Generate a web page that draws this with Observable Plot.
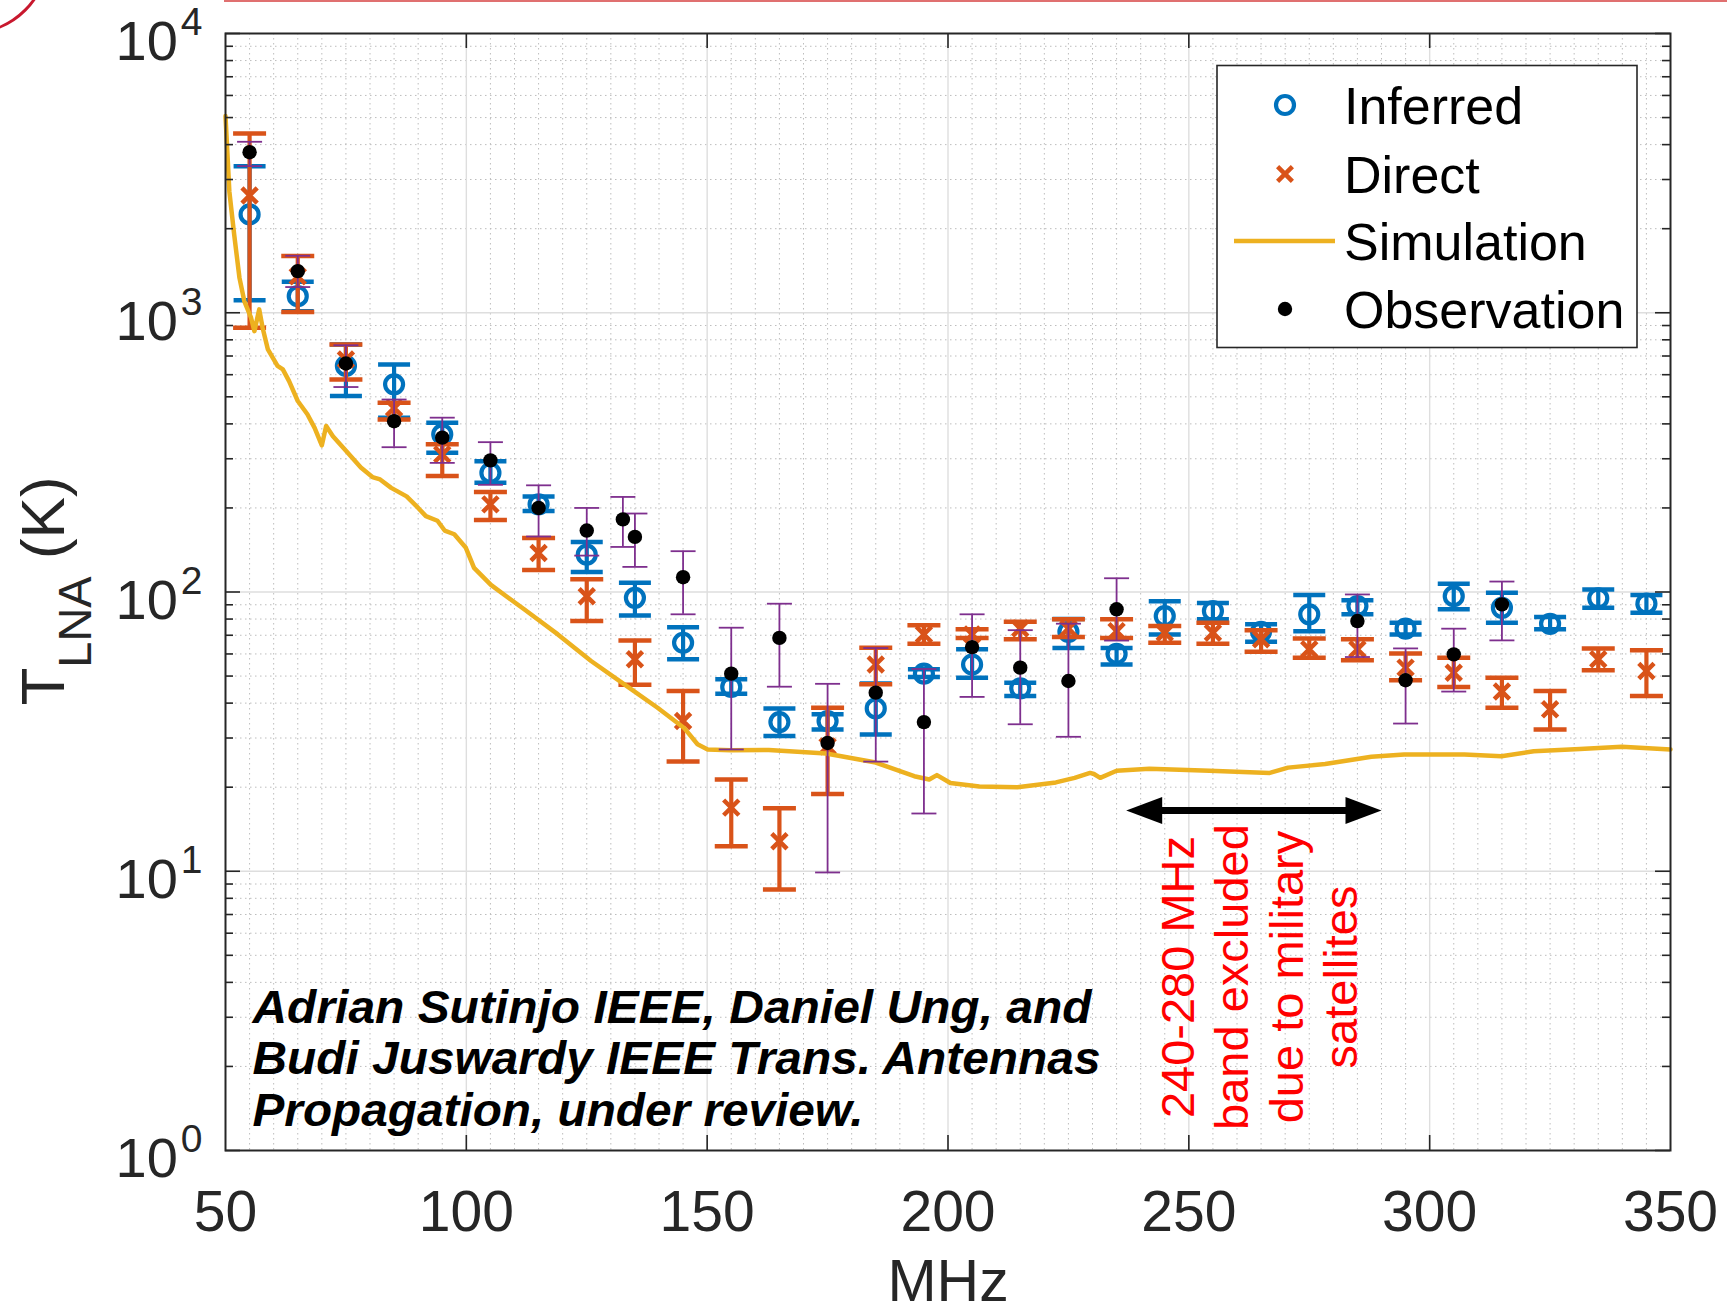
<!DOCTYPE html>
<html>
<head>
<meta charset="utf-8">
<script src="https://cdn.jsdelivr.net/npm/d3@7"></script>
<script src="https://cdn.jsdelivr.net/npm/@observablehq/plot@0.6"></script>
<style>
  html, body { margin: 0; padding: 0; background: #fff; }
  #chart { position: relative; width: 1727px; height: 1314px; overflow: hidden; }
  #chart svg { display: block; }
</style>
</head>
<body>
<div id="chart"></div>
<script>
// ---- Measurement frequencies (MHz) ----
const freq = [55, 65, 75, 85, 95, 105, 115, 125, 135, 145, 155, 165, 175, 185, 195,
              205, 215, 225, 235, 245, 255, 265, 275, 285, 295, 305, 315, 325, 335, 345];

// ---- Inferred T_LNA (K) with error bounds ----
const inferred   = [2250, 1146, 645, 554, 367, 267, 206, 136, 95.3, 65.8, 45.7, 34.2, 34.5, 38.3, 51,
                    55, 45.2, 72, 60, 82, 85.5, 72, 83.2, 89.1, 73.9, 96.6, 87.8, 76.9, 94.9, 90.8];
const inferredLo = [1109, 1013, 503, 421, 315, 246, 195, 118, 82.4, 57.4, 43.2, 30.5, 32.2, 30.9, 49.6,
                    49.3, 42.4, 63, 55, 70.5, 79.8, 66.3, 72.4, 83.2, 70.5, 86.7, 77.6, 73.5, 87.8, 84.3];
const inferredHi = [3350, 1291, 770, 653, 404, 294, 220, 151, 108, 74.8, 48.7, 38.3, 36.5, 47, 52.9,
                    62.4, 47.3, 80, 63, 92.7, 91.4, 76.6, 97.5, 93.4, 77.6, 107, 99.3, 81.3, 102, 97.5];

// ---- Direct T_LNA (K) with error bounds ----
const direct   = [2630, 1350, 680, 456, 311, 206, 138, 96.6, 57.4, 34.5, 16.9, 12.8, 28, 55, 70.5,
                  70.5, 74, 74, 72.4, 71.5, 71.5, 67.7, 62.4, 62.4, 53.6, 51.4, 44, 38, 57.4, 52.1];
const directLo = [883, 1007, 577, 415, 260, 181, 120, 78.7, 46.5, 24.7, 12.3, 8.6, 18.9, 46.7, 65.3,
                  68.5, 67.7, 69, 68.5, 65.8, 65.3, 61.1, 58.2, 57, 48.3, 45.7, 38.5, 32.2, 52.5, 42.4];
const directHi = [4385, 1596, 770, 476, 338, 228, 156, 111, 67.1, 44.2, 21.3, 16.8, 38.5, 63.1, 76,
                  73.6, 78.2, 79.8, 79.8, 75.5, 77.6, 73, 68.1, 67.7, 60.2, 58.2, 49.3, 44.2, 62.8, 61.8];

// ---- Sky observation (K) with error bounds ----
const obsFreq = [55, 65, 75, 85, 95, 105, 115, 125, 132.5, 135, 145, 155, 165, 175, 185, 195,
                 205, 215, 225, 235, 285, 295, 305, 315];
const obsTemp = [3758, 1409, 658, 409, 357, 296, 200, 166, 182, 157.5, 113, 51, 68.5, 28.8, 43.6, 34.2,
                 63.5, 53.6, 48, 86.7, 78.7, 48.3, 59.8, 90.3];
const obsLo   = [3350, 1236, 542, 330, 290, 242, 158, 135, 145, 123, 83.2, 27.3, 45.8, 9.9, 24.7, 16.1,
                 42.1, 33.6, 30.3, 67, 58.5, 33.8, 44, 67.1];
const obsHi   = [4095, 1600, 765, 489, 421, 344, 241, 200, 219, 191, 140, 74.5, 90.8, 46.9, 63, 53,
                 83.2, 73, 77, 112, 98, 62.8, 73.9, 109];

// ---- Simulated LNA noise temperature ----
const simFreq = [50.0, 50.8, 51.8, 52.9, 53.9, 55.3, 56.0, 57.0, 57.7, 58.8, 60.8, 61.9, 63.2, 65.0,
                 67.0, 68.5, 70.0, 70.9, 72.3, 75.1, 78.1, 80.5, 82.1, 84.4, 87.6, 90.0, 91.6, 94.0,
                 95.5, 97.5, 99.9, 101.6, 105.1, 112.0, 119.0, 125.9, 132.8, 139.7, 145.2, 148.0,
                 150.1, 154.9, 162.8, 174.7, 185.0, 193.0, 196.1, 197.7, 200.5, 206.5, 214.4, 222.4,
                 226.3, 229.5, 230.3, 231.6, 235.0, 241.8, 254.3, 266.8, 270.6, 278.3, 287.9, 294.7,
                 307.2, 314.9, 321.6, 331.2, 339.9, 350.0];
const simTemp = [5060, 2720, 1905, 1333, 1101, 960, 859, 1028, 884, 739, 645, 627, 569, 483,
                 433, 387, 335, 393, 361, 319, 279, 258, 253, 236, 220, 200, 187, 180,
                 166, 161, 144, 122, 106, 86.7, 70.5, 56.6, 46.7, 38.5, 32.6, 28.5,
                 27.3, 27.1, 27.2, 26.4, 24.5, 21.9, 21.3, 22.1, 20.7, 20.1, 20.0, 20.8,
                 21.6, 22.5, 22.3, 21.6, 22.9, 23.3, 22.9, 22.5, 23.5, 24.2, 25.7, 26.2,
                 26.2, 25.8, 26.9, 27.4, 27.9, 27.3];

// ---- Axis ticks ----
const xTicks = [50, 100, 150, 200, 250, 300, 350];
const yTicks = [1, 10, 100, 1000, 10000];

// ---- Annotations ----
const excludedBand = [237, 290];     // MHz span of the double arrow
const excludedLevel = 16.5;          // K, height of the arrow
const bandNote = ["240-280 MHz", "band excluded", "due to military", "satellites"];
const citation = ["Adrian Sutinjo IEEE, Daniel Ung, and",
                  "Budi Juswardy IEEE Trans. Antennas",
                  "Propagation, under review."];
const legendItems = ["Inferred", "Direct", "Simulation", "Observation"];

// ---- Tables built from the arrays ----
const infRows = freq.map((f, i) => ({f, v: inferred[i], lo: inferredLo[i], hi: inferredHi[i]}));
const dirRows = freq.map((f, i) => ({f, v: direct[i], lo: directLo[i], hi: directHi[i]}));
const obsRows = obsFreq.map((f, i) => ({f, v: obsTemp[i], lo: obsLo[i], hi: obsHi[i]}));
const simRows = simFreq.map((f, i) => ({f, v: simTemp[i]}));

const xMinor = d3.range(55, 350, 5).filter(d => d % 50 !== 0);
const yMinor = [];
for (let k = 0; k < 4; ++k) for (let m = 2; m <= 9; ++m) yMinor.push(m * 10 ** k);

// ---- Styling ----
const BLUE = "#0072BD", ORANGE = "#D95319", YELLOW = "#EDB120", PURPLE = "#7E2F8E";
const AXIS = "#262626";
const W = 1727, H = 1314;
const M = {top: 33, right: 57, bottom: 164, left: 225};
const innerW = W - M.left - M.right;
const innerH = H - M.top - M.bottom;

// horizontal error-bar cap
const cap = half => ({draw(ctx) { ctx.moveTo(-half, 0); ctx.lineTo(half, 0); }});
// filled arrow head pointing left (dir=-1) or right (dir=1), tip at the anchor
const head = dir => ({draw(ctx) {
  ctx.moveTo(0, 0); ctx.lineTo(-dir * 36, -13.5); ctx.lineTo(-dir * 36, 13.5); ctx.closePath();
}});

const minorGrid = {stroke: "#bdbdbd", strokeWidth: 1, strokeDasharray: "1.5,3.5"};
const majorGrid = {stroke: "#dedede", strokeWidth: 1.4};
const tickStyle = {stroke: AXIS, strokeWidth: 1.6};
const citeFont = {fontSize: 47, fontWeight: "bold", fontStyle: "italic", fill: "black",
                  fontFamily: "'Liberation Sans', Arial, sans-serif"};

const chart = Plot.plot({
  width: W,
  height: H,
  marginTop: M.top, marginRight: M.right, marginBottom: M.bottom, marginLeft: M.left,
  style: {fontFamily: "'Liberation Sans', Arial, Helvetica, sans-serif", color: AXIS, background: "white"},
  x: {domain: [50, 350], axis: null},
  y: {type: "log", domain: [1, 10000], axis: null},
  marks: [
    // grid
    Plot.ruleX(xMinor, minorGrid),
    Plot.ruleY(yMinor, minorGrid),
    Plot.ruleX(xTicks.slice(1, -1), majorGrid),
    Plot.ruleY(yTicks.slice(1, -1), majorGrid),

    // Inferred
    Plot.ruleX(infRows, {x: "f", y1: "lo", y2: "hi", stroke: BLUE, strokeWidth: 4.2}),
    Plot.dot(infRows, {x: "f", y: "lo", symbol: cap(16), fill: "none", stroke: BLUE, strokeWidth: 4.5}),
    Plot.dot(infRows, {x: "f", y: "hi", symbol: cap(16), fill: "none", stroke: BLUE, strokeWidth: 4.5}),
    Plot.dot(infRows, {x: "f", y: "v", r: 9, fill: "none", stroke: BLUE, strokeWidth: 4.2}),

    // Direct
    Plot.ruleX(dirRows, {x: "f", y1: "lo", y2: "hi", stroke: ORANGE, strokeWidth: 4.2}),
    Plot.dot(dirRows, {x: "f", y: "lo", symbol: cap(16.5), fill: "none", stroke: ORANGE, strokeWidth: 4.5}),
    Plot.dot(dirRows, {x: "f", y: "hi", symbol: cap(16.5), fill: "none", stroke: ORANGE, strokeWidth: 4.5}),
    Plot.dot(dirRows, {x: "f", y: "v", symbol: "times", r: 7, stroke: ORANGE, strokeWidth: 4.5}),

    // Simulation
    Plot.line(simRows, {x: "f", y: "v", stroke: YELLOW, strokeWidth: 4.5, strokeLinejoin: "round"}),

    // Observation
    Plot.ruleX(obsRows, {x: "f", y1: "lo", y2: "hi", stroke: PURPLE, strokeWidth: 1.8}),
    Plot.dot(obsRows, {x: "f", y: "lo", symbol: cap(12.5), fill: "none", stroke: PURPLE, strokeWidth: 1.8}),
    Plot.dot(obsRows, {x: "f", y: "hi", symbol: cap(12.5), fill: "none", stroke: PURPLE, strokeWidth: 1.8}),
    Plot.dot(obsRows, {x: "f", y: "v", r: 7.2, fill: "black"}),

    // excluded band arrow and note
    Plot.ruleY([excludedLevel], {x1: excludedBand[0], x2: excludedBand[1], stroke: "black",
                                 strokeWidth: 7, insetLeft: 25, insetRight: 25}),
    Plot.dot([excludedBand[0]], {x: d => d, y: () => excludedLevel, symbol: head(-1), fill: "black", stroke: "none"}),
    Plot.dot([excludedBand[1]], {x: d => d, y: () => excludedLevel, symbol: head(1), fill: "black", stroke: "none"}),
    Plot.text([bandNote.join("\n")], {
      x: () => 264.4, y: () => 4.18, rotate: -90, textAnchor: "middle", lineAnchor: "middle",
      lineHeight: 1.15, fontSize: 47, fill: "#ff0000"
    }),

    // citation, one line per text element
    ...citation.map((line, i) => Plot.text([line], {
      ...citeFont, frameAnchor: "bottom-left", textAnchor: "start", lineAnchor: "bottom",
      dx: 27, dy: -25 - (citation.length - 1 - i) * 51.5
    })),

    // inward ticks on all four sides
    Plot.tickX(xTicks.slice(1, -1), {...tickStyle, insetTop: innerH - 15}),
    Plot.tickX(xTicks.slice(1, -1), {...tickStyle, insetBottom: innerH - 15}),
    Plot.tickY(yTicks, {...tickStyle, insetRight: innerW - 15}),
    Plot.tickY(yTicks, {...tickStyle, insetLeft: innerW - 15}),
    Plot.tickY(yMinor, {...tickStyle, insetRight: innerW - 8}),
    Plot.tickY(yMinor, {...tickStyle, insetLeft: innerW - 8}),
    Plot.frame({stroke: AXIS, strokeWidth: 2}),

    // tick labels
    Plot.axisX(xTicks, {anchor: "bottom", tickSize: 0, tickPadding: 40, fontSize: 57, label: null}),
    Plot.axisY(yTicks, {anchor: "left", tickSize: 0, tickPadding: 23, fontSize: 56, dy: 9, label: null,
                        tickFormat: d => `10^${Math.round(Math.log10(d))}`}),

    // x label
    Plot.text(["MHz"], {frameAnchor: "bottom", lineAnchor: "bottom", dy: 150, fontSize: 59, fill: AXIS})
  ]
});

document.getElementById("chart").appendChild(chart);
const svg = d3.select(chart);

// powers of ten with raised exponents
svg.selectAll('g[aria-label="y-axis tick label"] text').each(function () {
  const [base, exp] = this.textContent.split("^");
  const t = d3.select(this);
  t.text(null);
  t.append("tspan").text(base);
  t.append("tspan").attr("dx", 3).attr("dy", -25).attr("font-size", 39).text(exp);
});

// keep each citation line at its set width
const citationWidths = [839, 848, 611];
svg.selectAll("text")
  .filter(function () { return citation.includes(this.textContent); })
  .each(function () {
    const i = citation.indexOf(this.textContent);
    this.setAttribute("textLength", citationWidths[i]);
    this.setAttribute("lengthAdjust", "spacingAndGlyphs");
  });

// y label: T with LNA subscript
const ylab = svg.append("text")
  .attr("transform", "translate(64,591) rotate(-90)")
  .attr("text-anchor", "middle")
  .attr("fill", AXIS)
  .attr("font-size", 62);
ylab.append("tspan").text("T");
ylab.append("tspan").attr("font-size", 47).attr("dy", 27).text("LNA");
ylab.append("tspan").attr("dy", -27).text(" (K)");

// legend
const lg = svg.append("g").attr("font-size", 52).attr("fill", "black").attr("text-anchor", "start");
lg.append("rect").attr("x", 1217).attr("y", 65.5).attr("width", 420).attr("height", 282)
  .attr("fill", "white").attr("stroke", AXIS).attr("stroke-width", 1.6);
const rowY = [105, 174, 241, 309];
const mx = 1285;
lg.append("circle").attr("cx", mx).attr("cy", rowY[0]).attr("r", 9)
  .attr("fill", "none").attr("stroke", BLUE).attr("stroke-width", 4.2);
lg.append("path").attr("d", `M${mx - 7.4},${rowY[1] - 7.4}L${mx + 7.4},${rowY[1] + 7.4}M${mx - 7.4},${rowY[1] + 7.4}L${mx + 7.4},${rowY[1] - 7.4}`)
  .attr("stroke", ORANGE).attr("stroke-width", 4.5);
lg.append("line").attr("x1", 1234).attr("x2", 1335).attr("y1", rowY[2]).attr("y2", rowY[2])
  .attr("stroke", YELLOW).attr("stroke-width", 4.5);
lg.append("circle").attr("cx", mx).attr("cy", rowY[3]).attr("r", 7.2).attr("fill", "black");
legendItems.forEach((name, i) => {
  lg.append("text").attr("x", 1344).attr("y", rowY[i]).attr("dy", "0.36em").text(name);
});

// page header rule and seal edge
svg.append("line").attr("x1", 224).attr("x2", W).attr("y1", 1).attr("y2", 1)
  .attr("stroke", "#e07070").attr("stroke-width", 2);
svg.append("circle").attr("cx", -30).attr("cy", -45).attr("r", 78)
  .attr("fill", "none").attr("stroke", "#c8182e").attr("stroke-width", 3);
</script>
</body>
</html>
